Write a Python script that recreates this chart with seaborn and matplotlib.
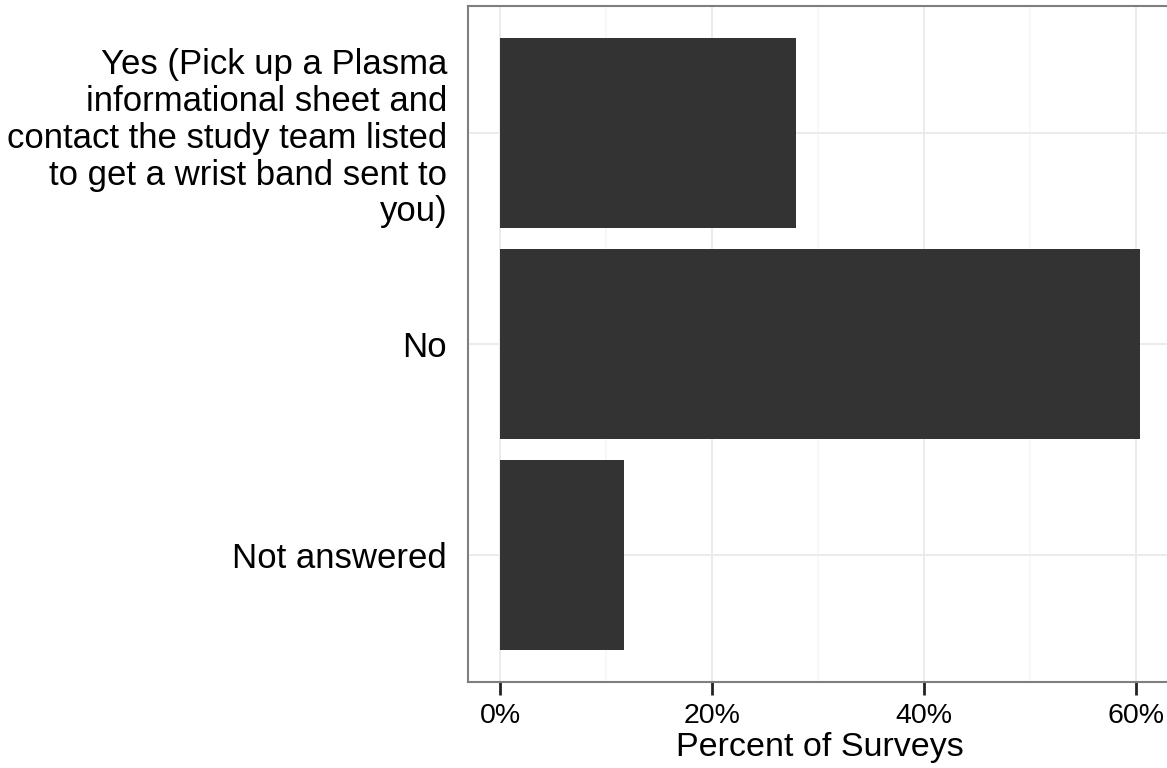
import matplotlib
matplotlib.use("Agg")
import matplotlib.pyplot as plt
import seaborn as sns
import pandas as pd
from matplotlib.ticker import FixedLocator, FuncFormatter

answers = [
    "Yes (Pick up a Plasma\ninformational sheet and\ncontact the study team listed\nto get a wrist band sent to\nyou)",
    "No",
    "Not answered",
]
percents = [27.9, 60.4, 11.7]

df = pd.DataFrame({"answer": answers, "percent": percents})

sns.set_theme(style="white")
plt.rcParams["font.family"] = ["Liberation Sans", "DejaVu Sans"]

fig = plt.figure(figsize=(11.67, 7.68), dpi=100)
ax = fig.add_axes([468 / 1167, 86 / 768, 704 / 1167, 676 / 768])

sns.barplot(data=df, x="percent", y="answer", orient="h", color="#333333",
            width=0.9, saturation=1, linewidth=0, ax=ax, zorder=3)

ax.set_xlim(-3.02, 63.42)
ax.set_ylim(2.6, -0.6)

ax.xaxis.set_major_locator(FixedLocator([0, 20, 40, 60]))
ax.xaxis.set_minor_locator(FixedLocator([10, 30, 50]))
ax.xaxis.set_major_formatter(FuncFormatter(lambda v, p: f"{v:.0f}%"))

ax.grid(which="major", axis="both", color="#EBEBEB", linewidth=1.4, zorder=0)
ax.grid(which="minor", axis="x", color="#F6F6F6", linewidth=1.2, zorder=0)
ax.set_axisbelow(True)

for s in ax.spines.values():
    s.set_color("#7F7F7F")
    s.set_linewidth(1.5)
    s.set_visible(True)

ax.tick_params(axis="x", which="major", bottom=True, length=9, width=2,
               color="#222222", labelsize=20.5, labelcolor="black", pad=6)
ax.tick_params(axis="x", which="minor", bottom=False)
ax.tick_params(axis="y", left=False, labelsize=25, labelcolor="black", pad=9)

for lbl in ax.get_yticklabels():
    lbl.set_horizontalalignment("right")
    lbl.set_linespacing(1.15)

ax.set_xlabel("Percent of Surveys", fontsize=24.5, color="black", labelpad=2)
ax.set_ylabel("")

fig.savefig("out.png", dpi=100)
